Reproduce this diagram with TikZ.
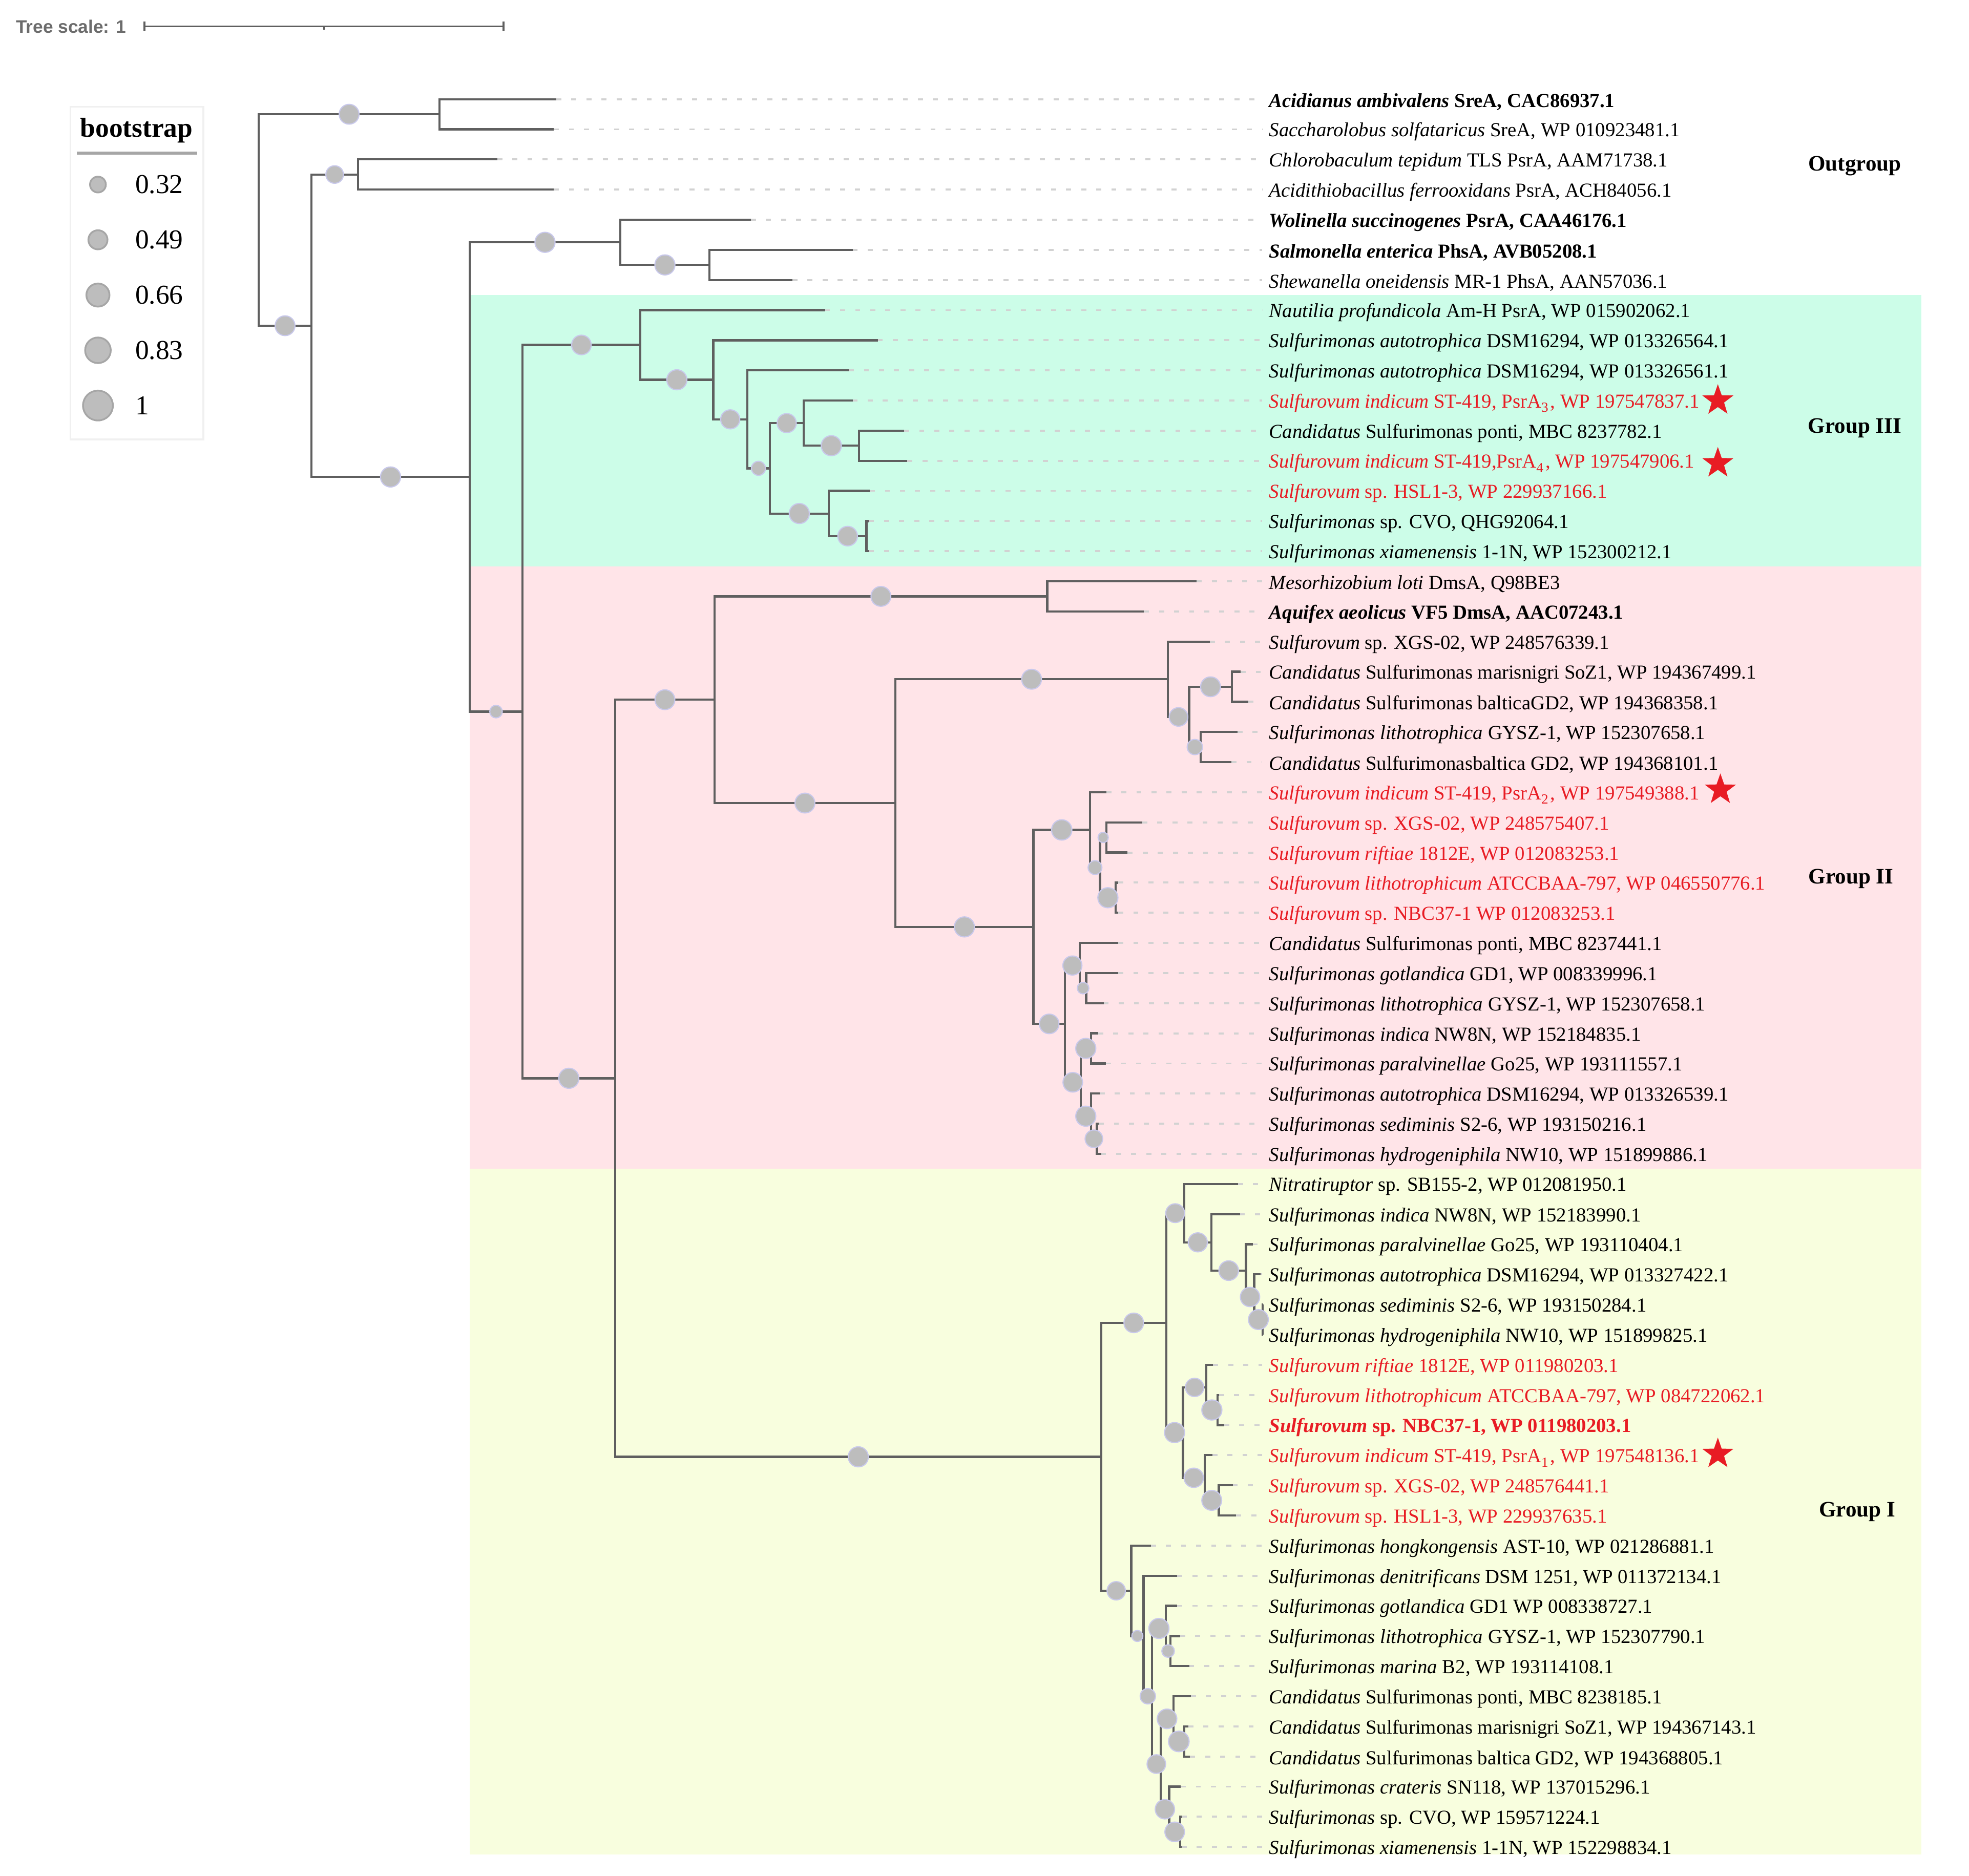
\documentclass[tikz,border=0pt]{standalone}
\usepackage{fontspec}
\setmainfont{Liberation Serif}
\newfontfamily\scalebarfont{Liberation Sans}
\usetikzlibrary{calc,shapes.geometric}

\definecolor{grpthree}{RGB}{204,253,232}
\definecolor{grptwo}{RGB}{255,228,232}
\definecolor{grpone}{RGB}{248,254,222}
\definecolor{branchgray}{RGB}{95,95,95}
\definecolor{bootfill}{RGB}{189,189,189}
\definecolor{bootrim}{RGB}{200,200,235}
\definecolor{labred}{RGB}{232,28,36}

\newcommand{\leaf}[4]{%
  \coordinate (t#1) at (#2,{55+24*#1});
  \node[lab,#3] (l#1) at (1005,{57+24*#1}) {#4};
  \draw[guide] (t#1) -- (l#1.west |- t#1);
}
\newcommand{\clade}[4]{%
  \coordinate (#1x) at (#2,0);
  \coordinate (#1m) at ($(#3)!0.5!(#4)$);
  \coordinate (#1) at (#1m -| #1x);
  \draw[branch] (#3) -| (#1) |- (#4);
}
\newcommand{\boot}[3]{%
  \node[boot=#3] (c#1) at ($(#2 |- #1)!0.5!(#1)$) {};
}

\begin{document}
\begin{tikzpicture}[x=0.1mm, y=-0.1mm,
    branch/.style={draw=branchgray, line width=0.5pt},
    guide/.style={draw=gray!35, line width=0.45pt, dash pattern=on 0.4mm off 0.8mm},
    boot/.style={circle, fill=bootfill, draw=bootrim, line width=0.25pt, inner sep=0pt, minimum size=#1*0.2mm},
    legboot/.style={circle, fill=bootfill, draw=gray!70, line width=0.4pt, inner sep=0pt, minimum size=#1*0.2mm},
    lab/.style={anchor=west, inner sep=0pt, inner xsep=0.5mm, font=\fontsize{4.5}{5.4}\selectfont},
    boldlab/.style={font=\fontsize{4.5}{5.4}\selectfont\bfseries},
    redlab/.style={text=labred},
    grp/.style={font=\fontsize{5}{6}\selectfont\bfseries},
    redstar/.style={star, star points=5, star point ratio=2.5, fill=labred, inner sep=0pt, minimum size=2.6mm}]
    \useasboundingbox (0,0) rectangle (1568,1494);

    \fill[grpthree] (374,235) rectangle (1530,451);
    \fill[grptwo] (374,451) rectangle (1530,931);
    \fill[grpone] (374,931) rectangle (1530,1477);

    \draw[gray!12, fill=white] (56,85) rectangle (162,350);
    \node[font=\fontsize{6.2}{7}\selectfont\bfseries] (legtitle) at (108.7,104) {bootstrap};
    \draw[gray!70, line width=0.6pt] (61,122) -- (157,122);
    \foreach \v/\yy/\r [count=\i] in {0.32/147/6.3, 0.49/191/7.6, 0.66/235/9.2, 0.83/279/10.2, 1/323/11.9}{
        \node[legboot=\r] (lb\i) at (78,\yy) {};
        \node[anchor=west, inner sep=0pt, font=\fontsize{6.2}{7}\selectfont] (lv\i) at (107,\yy) {\v};
    }

    \node[anchor=west, inner sep=0pt, text=gray!85!black, font=\scalebarfont\fontsize{4.1}{5}\selectfont\bfseries] (tscale) at (12,21) {Tree scale: 1};
    \coordinate (sbl) at (115,21);
    \coordinate (sbm) at (258,21);
    \coordinate (sbr) at (401,21);
    \draw[branchgray, line width=0.4pt] (sbl) -- (sbr);
    \draw[branchgray, line width=0.4pt] ($(sbl)+(0,-4)$) -- ($(sbl)+(0,4)$);
    \draw[branchgray, line width=0.4pt] ($(sbr)+(0,-4)$) -- ($(sbr)+(0,4)$);
    \draw[branchgray, line width=0.4pt] (sbm) -- ($(sbm)+(0,2.5)$);

    \leaf{1}{443}{boldlab}{\textit{Acidianus ambivalens} SreA, CAC86937.1}
    \leaf{2}{441}{}{\textit{Saccharolobus solfataricus} SreA, WP 010923481.1}
    \leaf{3}{396}{}{\textit{Chlorobaculum tepidum} TLS PsrA, AAM71738.1}
    \leaf{4}{441}{}{\textit{Acidithiobacillus ferrooxidans} PsrA, ACH84056.1}
    \leaf{5}{598}{boldlab}{\textit{Wolinella succinogenes} PsrA, CAA46176.1}
    \leaf{6}{679}{boldlab}{\textit{Salmonella enterica} PhsA, AVB05208.1}
    \leaf{7}{631}{}{\textit{Shewanella oneidensis} MR-1 PhsA, AAN57036.1}
    \leaf{8}{657}{}{\textit{Nautilia profundicola} Am-H PsrA, WP 015902062.1}
    \leaf{9}{699}{}{\textit{Sulfurimonas autotrophica} DSM16294, WP 013326564.1}
    \leaf{10}{676}{}{\textit{Sulfurimonas autotrophica} DSM16294, WP 013326561.1}
    \leaf{11}{679}{redlab}{\textit{Sulfurovum indicum} ST-419, PsrA\textsubscript{3}, WP 197547837.1}
    \leaf{12}{720}{}{\textit{Candidatus} Sulfurimonas ponti, MBC 8237782.1}
    \leaf{13}{722.6}{redlab}{\textit{Sulfurovum indicum} ST-419,PsrA\textsubscript{4}, WP 197547906.1}
    \leaf{14}{692.7}{redlab}{\textit{Sulfurovum} sp. HSL1-3, WP 229937166.1}
    \leaf{15}{692}{}{\textit{Sulfurimonas} sp. CVO, QHG92064.1}
    \leaf{16}{692}{}{\textit{Sulfurimonas xiamenensis} 1-1N, WP 152300212.1}
    \leaf{17}{953}{}{\textit{Mesorhizobium loti} DmsA, Q98BE3}
    \leaf{18}{911}{boldlab}{\textit{Aquifex aeolicus} VF5 DmsA, AAC07243.1}
    \leaf{19}{963.5}{}{\textit{Sulfurovum} sp. XGS-02, WP 248576339.1}
    \leaf{20}{988}{}{\textit{Candidatus} Sulfurimonas marisnigri SoZ1, WP 194367499.1}
    \leaf{21}{994}{}{\textit{Candidatus} Sulfurimonas balticaGD2, WP 194368358.1}
    \leaf{22}{985.4}{}{\textit{Sulfurimonas lithotrophica} GYSZ-1, WP 152307658.1}
    \leaf{23}{980.7}{}{\textit{Candidatus} Sulfurimonasbaltica GD2, WP 194368101.1}
    \leaf{24}{881}{redlab}{\textit{Sulfurovum indicum} ST-419, PsrA\textsubscript{2}, WP 197549388.1}
    \leaf{25}{909.6}{redlab}{\textit{Sulfurovum} sp. XGS-02, WP 248575407.1}
    \leaf{26}{898}{redlab}{\textit{Sulfurovum riftiae} 1812E, WP 012083253.1}
    \leaf{27}{890.5}{redlab}{\textit{Sulfurovum lithotrophicum} ATCCBAA-797, WP 046550776.1}
    \leaf{28}{890.5}{redlab}{\textit{Sulfurovum} sp. NBC37-1 WP 012083253.1}
    \leaf{29}{890.5}{}{\textit{Candidatus} Sulfurimonas ponti, MBC 8237441.1}
    \leaf{30}{890.5}{}{\textit{Sulfurimonas gotlandica} GD1, WP 008339996.1}
    \leaf{31}{878.9}{}{\textit{Sulfurimonas lithotrophica} GYSZ-1, WP 152307658.1}
    \leaf{32}{874.5}{}{\textit{Sulfurimonas indica} NW8N, WP 152184835.1}
    \leaf{33}{880.7}{}{\textit{Sulfurimonas paralvinellae} Go25, WP 193111557.1}
    \leaf{34}{875.7}{}{\textit{Sulfurimonas autotrophica} DSM16294, WP 013326539.1}
    \leaf{35}{875}{}{\textit{Sulfurimonas sediminis} S2-6, WP 193150216.1}
    \leaf{36}{876.8}{}{\textit{Sulfurimonas hydrogeniphila} NW10, WP 151899886.1}
    \leaf{37}{985.8}{}{\textit{Nitratiruptor} sp. SB155-2, WP 012081950.1}
    \leaf{38}{987.4}{}{\textit{Sulfurimonas indica} NW8N, WP 152183990.1}
    \leaf{39}{997.6}{}{\textit{Sulfurimonas paralvinellae} Go25, WP 193110404.1}
    \leaf{40}{1003.9}{}{\textit{Sulfurimonas autotrophica} DSM16294, WP 013327422.1}
    \leaf{41}{1006}{}{\textit{Sulfurimonas sediminis} S2-6, WP 193150284.1}
    \leaf{42}{1006}{}{\textit{Sulfurimonas hydrogeniphila} NW10, WP 151899825.1}
    \leaf{43}{966.1}{redlab}{\textit{Sulfurovum riftiae} 1812E, WP 011980203.1}
    \leaf{44}{970.8}{redlab}{\textit{Sulfurovum lithotrophicum} ATCCBAA-797, WP 084722062.1}
    \leaf{45}{974.9}{boldlab,redlab}{\textit{Sulfurovum} sp. NBC37-1, WP 011980203.1}
    \leaf{46}{965.4}{redlab}{\textit{Sulfurovum indicum} ST-419, PsrA\textsubscript{1}, WP 197548136.1}
    \leaf{47}{981.7}{redlab}{\textit{Sulfurovum} sp. XGS-02, WP 248576441.1}
    \leaf{48}{984.4}{redlab}{\textit{Sulfurovum} sp. HSL1-3, WP 229937635.1}
    \leaf{49}{916.5}{}{\textit{Sulfurimonas hongkongensis} AST-10, WP 021286881.1}
    \leaf{50}{937.5}{}{\textit{Sulfurimonas denitrificans} DSM 1251, WP 011372134.1}
    \leaf{51}{937.5}{}{\textit{Sulfurimonas gotlandica} GD1 WP 008338727.1}
    \leaf{52}{939.8}{}{\textit{Sulfurimonas lithotrophica} GYSZ-1, WP 152307790.1}
    \leaf{53}{947}{}{\textit{Sulfurimonas marina} B2, WP 193114108.1}
    \leaf{54}{948.4}{}{\textit{Candidatus} Sulfurimonas ponti, MBC 8238185.1}
    \leaf{55}{946.3}{}{\textit{Candidatus} Sulfurimonas marisnigri SoZ1, WP 194367143.1}
    \leaf{56}{947.7}{}{\textit{Candidatus} Sulfurimonas baltica GD2, WP 194368805.1}
    \leaf{57}{940.3}{}{\textit{Sulfurimonas crateris} SN118, WP 137015296.1}
    \leaf{58}{941}{}{\textit{Sulfurimonas} sp. CVO, WP 159571224.1}
    \leaf{59}{941}{}{\textit{Sulfurimonas xiamenensis} 1-1N, WP 152298834.1}

    \clade{M}{684}{t12}{t13}
    \clade{L}{640}{t11}{M}
    \clade{O}{690}{t15}{t16}
    \clade{N}{660}{t14}{O}
    \clade{K}{613}{L}{N}
    \clade{J}{595}{t10}{K}
    \clade{I}{568}{t9}{J}
    \clade{H}{510}{t8}{I}
    \clade{X}{981}{t20}{t21}
    \clade{Y}{956}{t22}{t23}
    \clade{W}{947}{X}{Y}
    \clade{U}{930}{t19}{W}
    \clade{S}{834}{t17}{t18}
    \clade{AC}{881}{t25}{t26}
    \clade{AD}{888.5}{t27}{t28}
    \clade{AB}{876}{AC}{AD}
    \clade{Z}{868}{t24}{AB}
    \clade{AG}{865}{t30}{t31}
    \clade{AE}{860}{t29}{AG}
    \clade{AH}{868.7}{t32}{t33}
    \clade{AJ}{873.5}{t35}{t36}
    \clade{AI}{868.7}{t34}{AJ}
    \clade{AF}{860.6}{AH}{AI}
    \clade{AA}{848}{AE}{AF}
    \clade{V}{823}{Z}{AA}
    \clade{T}{713}{U}{V}
    \clade{Q}{569}{S}{T}
    \clade{BG}{1005.5}{t41}{t42}
    \clade{BF}{998.7}{t40}{BG}
    \clade{BE}{992.2}{t39}{BF}
    \clade{BD}{964.7}{t38}{BE}
    \clade{BB}{943}{t37}{BD}
    \clade{BJ}{969.5}{t44}{t45}
    \clade{BH}{960.6}{t43}{BJ}
    \clade{BK}{970.6}{t47}{t48}
    \clade{BI}{959.3}{t46}{BK}
    \clade{BC}{942}{BH}{BI}
    \clade{BA}{928.7}{BB}{BC}
    \clade{CF}{932.1}{t52}{t53}
    \clade{CD}{928.3}{t51}{CF}
    \clade{CI}{943}{t55}{t56}
    \clade{CG}{934.5}{t54}{CI}
    \clade{CJ}{939.8}{t58}{t59}
    \clade{CH}{931.1}{t57}{CJ}
    \clade{CE}{924.2}{CG}{CH}
    \clade{CC}{917.5}{CD}{CE}
    \clade{CB}{910.6}{t50}{CC}
    \clade{CA}{900.8}{t49}{CB}
    \clade{GI}{877}{BA}{CA}
    \clade{P}{490}{Q}{GI}
    \clade{G}{416}{H}{P}
    \clade{F}{565}{t6}{t7}
    \clade{E}{494}{t5}{F}
    \clade{D}{374}{E}{G}
    \clade{C}{285}{t3}{t4}
    \clade{B}{248}{C}{D}
    \clade{A}{350}{t1}{t2}
    \clade{R}{206}{A}{B}

    \boot{A}{R}{7.9}
    \boot{B}{R}{7.9}
    \boot{C}{B}{7}
    \boot{D}{B}{8}
    \boot{E}{D}{8}
    \boot{F}{E}{8}
    \boot{G}{D}{5}
    \boot{H}{G}{7.8}
    \boot{I}{H}{8}
    \boot{J}{I}{7.6}
    \boot{K}{J}{5.6}
    \boot{L}{K}{7.6}
    \boot{M}{L}{8}
    \boot{N}{K}{8}
    \boot{O}{N}{7.8}
    \boot{P}{G}{8}
    \boot{Q}{P}{7.9}
    \boot{S}{Q}{7.9}
    \boot{T}{Q}{7.9}
    \boot{U}{T}{7.9}
    \boot{W}{U}{7.4}
    \boot{X}{W}{7.9}
    \boot{Y}{W}{6.1}
    \boot{V}{T}{8}
    \boot{Z}{V}{8.1}
    \boot{AB}{Z}{5.5}
    \boot{AC}{AB}{4.1}
    \boot{AD}{AB}{8}
    \boot{AA}{V}{7.8}
    \boot{AE}{AA}{7.6}
    \boot{AG}{AE}{4.6}
    \boot{AF}{AA}{7.8}
    \boot{AH}{AF}{8}
    \boot{AI}{AF}{8}
    \boot{AJ}{AI}{7}
    \boot{GI}{P}{8}
    \boot{BA}{GI}{7.8}
    \boot{BB}{BA}{7.5}
    \boot{BD}{BB}{7.6}
    \boot{BE}{BD}{7.8}
    \boot{BF}{BE}{7.7}
    \boot{BG}{BF}{7.9}
    \boot{BC}{BA}{8}
    \boot{BH}{BC}{7.3}
    \boot{BJ}{BH}{8}
    \boot{BI}{BC}{7.7}
    \boot{BK}{BI}{7.9}
    \boot{CA}{GI}{7.3}
    \boot{CB}{CA}{4.4}
    \boot{CC}{CB}{6.1}
    \boot{CD}{CC}{8}
    \boot{CF}{CD}{5}
    \boot{CE}{CC}{7.4}
    \boot{CG}{CE}{7.8}
    \boot{CI}{CG}{8.2}
    \boot{CH}{CE}{7.7}
    \boot{CJ}{CH}{7.8}

    \node[grp] (gout) at (1477,132) {Outgroup};
    \node[grp] (g3) at (1477,341) {Group III};
    \node[grp] (g2) at (1474,700) {Group II};
    \node[grp] (g1) at (1479,1204) {Group I};

    \node[redstar] (s11) at (1368,319) {};
    \node[redstar] (s13) at (1368,369) {};
    \node[redstar] (s24) at (1370,629) {};
    \node[redstar] (s46) at (1368,1158) {};
\end{tikzpicture}
\end{document}
